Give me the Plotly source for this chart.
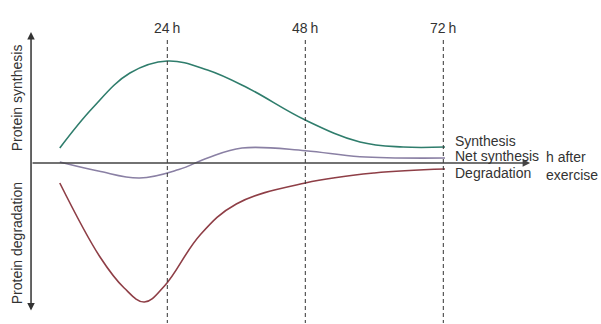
import plotly.graph_objects as go

# Hours after exercise and relative rate values
syn_t = [5.3, 11.0, 17.5, 24.0, 31.0, 38.0, 48.0, 57.5, 65.0, 72.3]
syn_v = [15, 55, 90, 102, 93, 75, 43, 21, 16, 16]

net_t = [5.3, 12.0, 19.2, 26.0, 31.0, 37.0, 48.0, 57.5, 72.3]
net_v = [1, -8, -15, -6.5, 5, 15, 12.3, 6.3, 5]

deg_t = [5.3, 12.3, 16.5, 20.0, 23.5, 29.7, 36.0, 48.0, 60.0, 72.3]
deg_v = [-20, -94, -125, -139, -123, -72, -41, -20, -10, -6]

ticks = [24, 48, 72]
tick_labels = ["24\u2009h", "48\u2009h", "72\u2009h"]

FONT = "Liberation Sans"
TXT = "#333333"
FS = 14

fig = go.Figure()
for t, v, c in [(syn_t, syn_v, "#2f7d6c"), (net_t, net_v, "#8a80a4"), (deg_t, deg_v, "#8e3e46")]:
    fig.add_trace(go.Scatter(x=t, y=v, mode="lines",
                             line=dict(color=c, width=1.6, shape="spline", smoothing=1.1),
                             hoverinfo="skip", showlegend=False))

for tk, lb in zip(ticks, tick_labels):
    fig.add_shape(type="line", x0=tk, x1=tk, y0=123, y1=-160, xref="x", yref="y",
                  line=dict(color="#333333", width=1, dash="4px,3px"))
    fig.add_annotation(x=tk, y=135, text=lb, showarrow=False,
                       font=dict(family=FONT, size=FS, color=TXT))

# y axis with arrows at both ends
fig.add_annotation(x=0.3, y=131, ax=0.3, ay=-149, xref="x", yref="y", axref="x", ayref="y",
                   text="", showarrow=True, arrowhead=2, arrowsize=1, arrowwidth=1.5,
                   arrowcolor="#333333", arrowside="end+start")
# x axis with arrow
fig.add_annotation(x=87.1, y=0, ax=0.3, ay=0, xref="x", yref="y", axref="x", ayref="y",
                   text="", showarrow=True, arrowhead=2, arrowsize=1, arrowwidth=1.5,
                   arrowcolor="#444444")

labels = [("Synthesis", 73.6, 22), ("Net synthesis", 73.6, 7), ("Degradation", 73.6, -10)]
for txt, x, y in labels:
    fig.add_annotation(x=x, y=y, text=txt, showarrow=False, xanchor="left",
                       font=dict(family=FONT, size=FS, color=TXT))
fig.add_annotation(x=89.5, y=-3, text="h after<br>exercise", showarrow=False, xanchor="left",
                   align="left", font=dict(family=FONT, size=FS, color=TXT))

fig.add_annotation(x=-2.1, y=65, text="Protein synthesis", textangle=-90, showarrow=False,
                   font=dict(family=FONT, size=FS, color=TXT))
fig.add_annotation(x=-2.1, y=-80, text="Protein degradation", textangle=-90, showarrow=False,
                   font=dict(family=FONT, size=FS, color=TXT))

fig.update_layout(
    width=601, height=324, margin=dict(l=0, r=0, t=0, b=0),
    paper_bgcolor="white", plot_bgcolor="white",
    xaxis=dict(range=[-29.3 / 5.75, (601 - 29.3) / 5.75], visible=False, fixedrange=True),
    yaxis=dict(range=[-161, 163], visible=False, fixedrange=True),
)
fig.write_html("out.html")
